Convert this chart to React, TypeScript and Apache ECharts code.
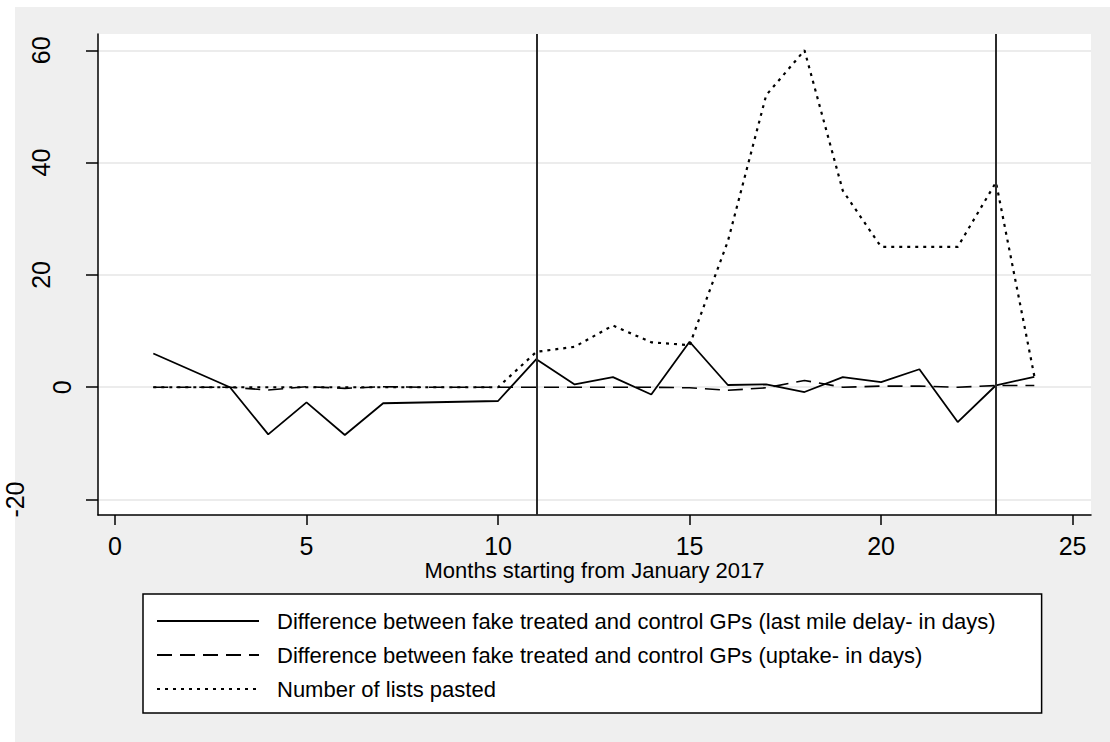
import React, { useEffect, useRef } from "react";
import * as echarts from "echarts";

const FONT = "'Liberation Sans', Arial, Helvetica, sans-serif";

const months = [1, 2, 3, 4, 5, 6, 7, 8, 9, 10, 11, 12, 13, 14, 15, 16, 17, 18, 19, 20, 21, 22, 23, 24];
// Difference between fake treated and control GPs (last mile delay- in days)
const lastMileDelay: (number | null)[] = [6, null, 0, -8.4, -2.7, -8.5, -2.85, null, null, -2.45, 5, 0.5, 1.8, -1.3, 8.1, 0.4, 0.5, -0.85, 1.8, 0.9, 3.2, -6.2, 0.35, 1.85];
// Difference between fake treated and control GPs (uptake- in days)
const uptake: number[] = [0, 0, 0, -0.5, 0.1, -0.2, 0.1, 0, 0, 0, 0, 0, 0, 0, -0.1, -0.55, -0.1, 1.2, 0, 0.2, 0.2, 0, 0.3, 0.3];
// Number of lists pasted
const listsPasted: number[] = [0, 0, 0, 0, 0, 0, 0, 0, 0, 0, 6.3, 7.2, 11, 8, 7.5, 26, 52, 60, 35, 25, 25, 25, 36.5, 2];

const xTicks = [0, 5, 10, 15, 20, 25];
const yTicks = [-20, 0, 20, 40, 60];
const refLines = [11, 23];

const seriesNames = [
  "Difference between fake treated and control GPs (last mile delay- in days)",
  "Difference between fake treated and control GPs (uptake- in days)",
  "Number of lists pasted",
];

const pair = (vals: (number | null)[]) => months.map((m, i) => [m, vals[i]]);

export default function App() {
  const ref = useRef<HTMLDivElement>(null);
  useEffect(() => {
    if (!ref.current) return;
    const chart = echarts.init(ref.current, null, { renderer: "svg" });
    const yRich = (pad: number) => ({
      fontSize: 25,
      color: "#000",
      fontFamily: FONT,
      padding: [0, 0, pad, 0],
    });
    chart.setOption({
      animation: false,
      backgroundColor: "transparent",
      grid: {
        left: 98,
        top: 34,
        right: 19,
        bottom: 227,
        show: true,
        backgroundColor: "#ffffff",
        borderWidth: 0,
        containLabel: false,
        outerBoundsMode: "none",
      },
      xAxis: {
        type: "value",
        min: -0.444,
        max: 25.48,
        name: "Months starting from January 2017",
        nameLocation: "middle",
        nameGap: 45,
        nameMoveOverlap: false,
        nameTextStyle: { fontFamily: FONT, fontSize: 22, lineHeight: 20, color: "#000" },
        axisLine: { show: true, onZero: false, lineStyle: { color: "#000", width: 1.5 } },
        axisTick: { show: true, customValues: xTicks, length: 10, lineStyle: { color: "#000", width: 1.5 } },
        axisLabel: { customValues: xTicks, fontSize: 25, lineHeight: 20, margin: 20.5, color: "#000", fontFamily: FONT },
        splitLine: { show: false },
      },
      yAxis: {
        type: "value",
        min: -22.75,
        max: 62.9,
        axisLine: { show: true, onZero: false, lineStyle: { color: "#000", width: 1.5 } },
        axisTick: { show: true, customValues: yTicks, length: 12, lineStyle: { color: "#000", width: 1.5 } },
        axisLabel: {
          customValues: yTicks,
          rotate: 90,
          fontSize: 25,
          margin: 24,
          color: "#000",
          fontFamily: FONT,
          formatter: (v: number) => {
            const s = String(v);
            const cls = s.length === 1 ? "a" : s.length === 2 ? "b" : "c";
            return `{${cls}|${s}}`;
          },
          rich: { a: yRich(0), b: yRich(21), c: yRich(47) },
        },
        splitLine: { show: false },
      },
      legend: {
        orient: "vertical",
        left: 143,
        top: 594,
        padding: [16, 46, 13, 13],
        itemGap: 12,
        itemWidth: 102,
        itemHeight: 14,
        backgroundColor: "#ffffff",
        borderColor: "#000",
        borderWidth: 1.5,
        borderRadius: 0,
        selectedMode: false,
        itemStyle: { opacity: 0 },
        textStyle: { fontSize: 22, lineHeight: 20, color: "#000", fontFamily: FONT, padding: [0, 0, 0, 13] },
        data: seriesNames,
      },
      series: [
        {
          name: "grid",
          type: "line",
          data: [],
          z: 0,
          silent: true,
          markLine: {
            z: 0,
            silent: true,
            symbol: ["none", "none"],
            label: { show: false },
            lineStyle: { color: "#e6e6e6", width: 1.5, type: "solid" },
            data: yTicks.map((v) => ({ yAxis: v })),
          },
        },
        {
          name: seriesNames[0],
          type: "line",
          data: pair(lastMileDelay),
          connectNulls: true,
          symbol: "none",
          showSymbol: false,
          z: 3,
          lineStyle: { color: "#000", width: 1.8, type: "solid" },
          itemStyle: { color: "#000" },
          markLine: {
            z: 4,
            silent: true,
            symbol: ["none", "none"],
            label: { show: false },
            lineStyle: { color: "#2b2b2b", width: 2, type: "solid" },
            data: refLines.map((v) => ({ xAxis: v })),
          },
        },
        {
          name: seriesNames[1],
          type: "line",
          data: pair(uptake),
          symbol: "none",
          showSymbol: false,
          z: 2,
          lineStyle: { color: "#000", width: 1.6, type: [15, 8] },
          itemStyle: { color: "#000" },
        },
        {
          name: seriesNames[2],
          type: "line",
          data: pair(listsPasted),
          symbol: "none",
          showSymbol: false,
          z: 2,
          lineStyle: { color: "#000", width: 2.2, type: [3, 5] },
          itemStyle: { color: "#000" },
        },
      ],
    });
    return () => chart.dispose();
  }, []);
  return (
    <div style={{ position: "fixed", left: 0, top: 0, width: 1110, height: 742, background: "#ffffff" }}>
      <div style={{ position: "absolute", left: 15, top: 7, width: 1095, height: 735, background: "#efefef" }} />
      <div ref={ref} style={{ position: "absolute", left: 0, top: 0, width: 1110, height: 742 }} />
    </div>
  );
}
